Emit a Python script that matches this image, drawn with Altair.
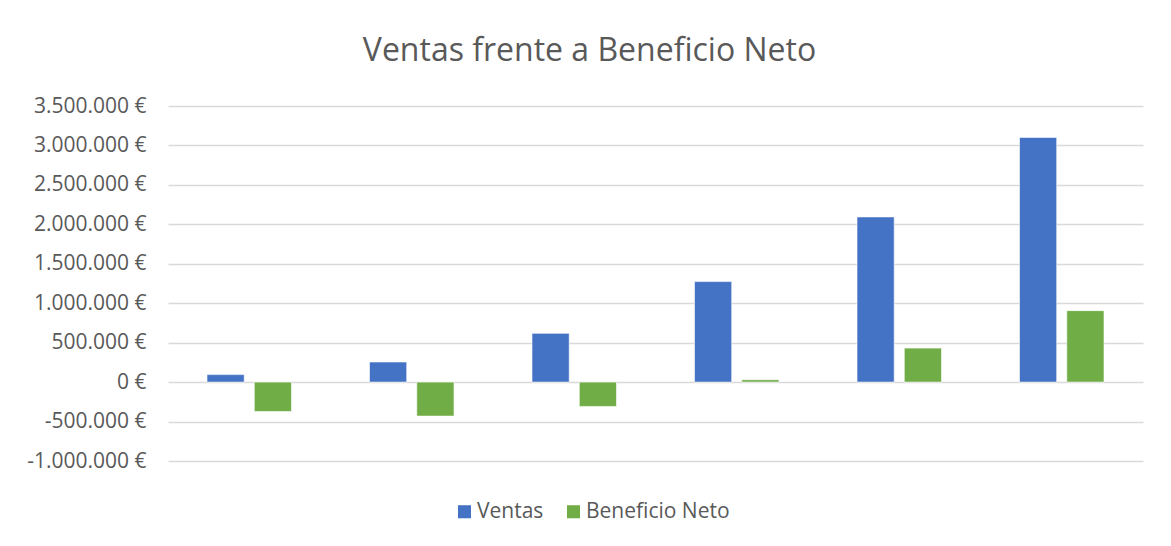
import altair as alt
import pandas as pd

periodos = ["1", "2", "3", "4", "5", "6"]
ventas = [95000, 255000, 618000, 1274000, 2094000, 3102000]
beneficio_neto = [-372000, -431000, -308000, 30000, 431000, 906000]
series = ["Ventas", "Beneficio Neto"]
colores = ["#4472C4", "#70AD47"]
y_ticks = [-1000000, -500000, 0, 500000, 1000000, 1500000, 2000000, 2500000, 3000000, 3500000]

rows = []
for i, p in enumerate(periodos):
    rows.append({"periodo": p, "serie": series[0], "valor": ventas[i]})
    rows.append({"periodo": p, "serie": series[1], "valor": beneficio_neto[i]})
df = pd.DataFrame(rows)

label_expr = "(datum.value < 0 ? '-' : '') + replace(format(abs(datum.value), ','), regexp(',', 'g'), '.') + ' €'"

bars = alt.Chart(df).mark_bar(stroke="white", strokeWidth=0.6).encode(
    x=alt.X("periodo:N", sort=periodos, axis=None,
            scale=alt.Scale(paddingInner=0.48, paddingOuter=0.24)),
    xOffset=alt.XOffset("serie:N", sort=series,
                        scale=alt.Scale(paddingInner=0.213, paddingOuter=0)),
    y=alt.Y("valor:Q",
            scale=alt.Scale(domain=[-1000000, 3500000], nice=False, zero=False),
            axis=alt.Axis(values=y_ticks, title=None, labelExpr=label_expr,
                          grid=True, gridColor="#d9d9d9", gridWidth=1.5,
                          domain=False, ticks=False, labelPadding=22,
                          labelFont="Open Sans", labelFontSize=21,
                          labelColor="#595959")),
    color=alt.Color("serie:N", sort=series,
                    scale=alt.Scale(domain=series, range=colores),
                    legend=alt.Legend(title=None, orient="none", legendX=286, legendY=395,
                                      direction="horizontal", symbolType="square",
                                      symbolSize=170, symbolStrokeWidth=0,
                                      labelFont="Open Sans", labelFontSize=21,
                                      labelColor="#595959", labelOffset=2,
                                      columnPadding=19)),
)

chart = bars.properties(
    width=975,
    height=355,
    background="white",
    autosize=alt.AutoSizeParams(type="none"),
    padding={"left": 160, "top": 98, "right": 20, "bottom": 76},
    title=alt.TitleParams("Ventas frente a Beneficio Neto", font="Open Sans", fontSize=32,
                          fontWeight="normal", color="#595959", anchor="middle",
                          dx=-66, offset=2, baseline="alphabetic"),
).configure_view(strokeWidth=0)

chart.save("out.html", embed_options={"renderer": "svg", "actions": False})
